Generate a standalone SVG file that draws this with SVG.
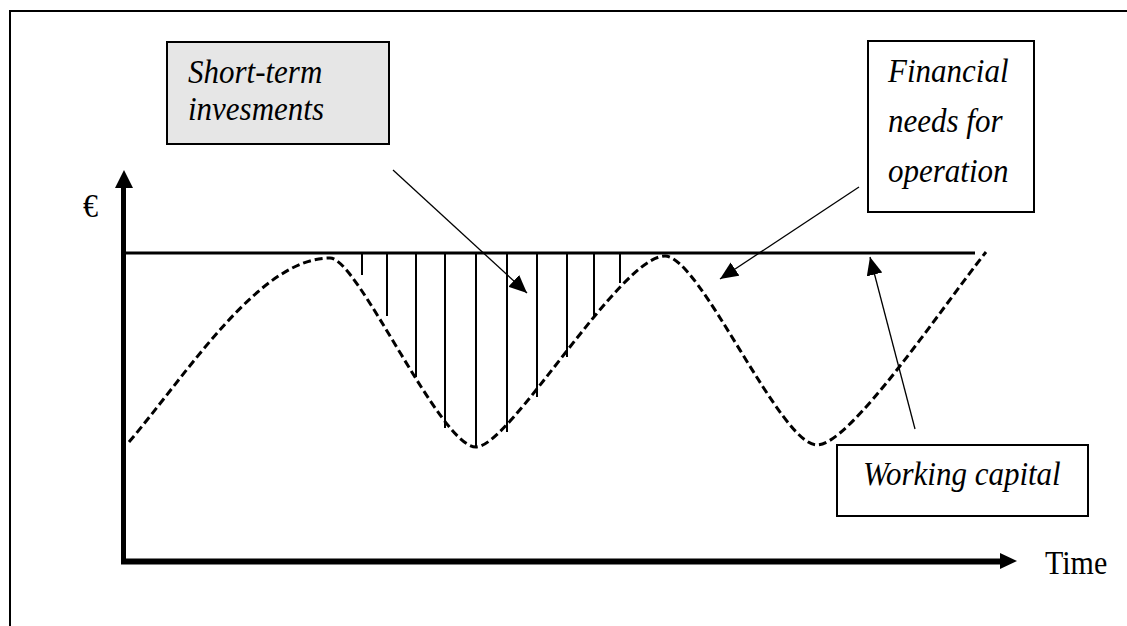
<svg xmlns="http://www.w3.org/2000/svg" width="1127" height="626" viewBox="0 0 1127 626">
<defs>
<style>
.lbl{font-family:"Liberation Serif","Times New Roman",serif;font-style:italic;font-size:31px;fill:#000}
.plain{font-family:"Liberation Serif","Times New Roman",serif;font-size:30px;fill:#000}
.box{stroke:#000;stroke-width:2}
.conn{stroke:#000;stroke-width:1.3;fill:none}
.hatch{stroke:#000;stroke-width:2}
</style>
<marker id="ah" markerWidth="20" markerHeight="18" refX="18" refY="8" orient="auto" markerUnits="userSpaceOnUse">
<path d="M0,0 L18,8 L0,16 Z" fill="#000"/>
</marker>
</defs>
<rect width="1127" height="626" fill="#fff"/>
<path d="M10,640 L10,11 L1140,11" fill="none" stroke="#000" stroke-width="2"/>

<g id="axes">
<line x1="123.5" y1="186" x2="123.5" y2="564" stroke="#000" stroke-width="5"/>
<path d="M115,188 L124,170 L133,188 Z" fill="#000"/>
<line x1="121" y1="561.5" x2="1002" y2="561.5" stroke="#000" stroke-width="6"/>
<path d="M1000,553 L1017,561 L1000,569 Z" fill="#000"/>
<text class="plain" x="83" y="217" transform="matrix(1 0 0 1.1 0 -21.7)">€</text>
<text class="plain" x="1045" y="574" transform="matrix(1 0 0 1.1 0 -57.4)">Time</text>
</g>

<g id="working-capital-line">
<line x1="124" y1="253" x2="975" y2="253" stroke="#000" stroke-width="3"/>
</g>

<g id="hatching">
<line class="hatch" x1="362" y1="253" x2="362" y2="275"/>
<line class="hatch" x1="387" y1="253" x2="387" y2="316"/>
<line class="hatch" x1="416" y1="253" x2="416" y2="377"/>
<line class="hatch" x1="445" y1="253" x2="445" y2="428"/>
<line class="hatch" x1="476" y1="253" x2="476" y2="447"/>
<line class="hatch" x1="507" y1="253" x2="507" y2="432"/>
<line class="hatch" x1="537" y1="253" x2="537" y2="397"/>
<line class="hatch" x1="567" y1="253" x2="567" y2="357"/>
<line class="hatch" x1="594" y1="253" x2="594" y2="318"/>
<line class="hatch" x1="620" y1="253" x2="620" y2="283"/>
</g>

<g id="financial-needs-curve">
<path d="M129,442 C190,370 260,258 330,258 C358,258 440,447 476,447 C510,447 620,256 665,256 C700,256 780,445 817,445 C850,445 940,310 986,252" fill="none" stroke="#000" stroke-width="3" stroke-dasharray="8,4"/>
</g>

<g id="short-term-box">
<rect class="box" x="167" y="42" width="222" height="102" fill="#e6e6e6"/>
<text class="lbl" x="188" y="83" transform="matrix(1 0 0 1.1 0 -8.3)">Short-term</text>
<text class="lbl" x="188" y="120" transform="matrix(1 0 0 1.1 0 -12)">invesments</text>
</g>

<g id="financial-box">
<rect class="box" x="868" y="41" width="166" height="171" fill="#fff"/>
<text class="lbl" x="888" y="82" transform="matrix(1 0 0 1.1 0 -8.2)">Financial</text>
<text class="lbl" x="888" y="132" transform="matrix(1 0 0 1.1 0 -13.2)">needs for</text>
<text class="lbl" x="888" y="182" transform="matrix(1 0 0 1.1 0 -18.2)">operation</text>
</g>

<g id="working-capital-box">
<rect class="box" x="837" y="445" width="251" height="71" fill="#fff"/>
<text class="lbl" x="863" y="485" transform="matrix(1 0 0 1.1 0 -48.5)">Working capital</text>
</g>

<g id="connectors">
<line class="conn" x1="393" y1="170" x2="527" y2="293" marker-end="url(#ah)"/>
<line class="conn" x1="859" y1="187" x2="720" y2="279" marker-end="url(#ah)"/>
<line class="conn" x1="915" y1="429" x2="870" y2="257" marker-end="url(#ah)"/>
</g>
</svg>
